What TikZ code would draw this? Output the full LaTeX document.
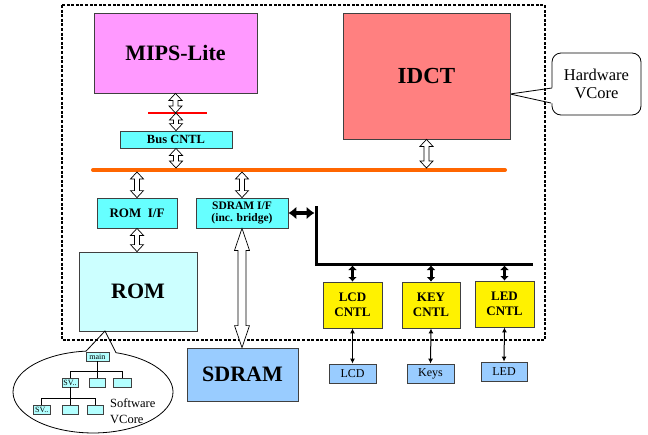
\documentclass[tikz,border=0pt]{standalone}
\usepackage{fontspec}
\setmainfont{Liberation Serif}
\usetikzlibrary{calc,arrows.meta}
\definecolor{mipsfill}{HTML}{FF99FF}
\definecolor{idctfill}{HTML}{FF8080}
\definecolor{cntlfill}{HTML}{66FFFF}
\definecolor{romfill}{HTML}{CCFFFF}
\definecolor{memfill}{HTML}{99CCFF}
\definecolor{busorange}{HTML}{FF6600}
\definecolor{treefill}{HTML}{B3FFFF}
\tikzset{
  blk/.style={draw=black!75, line width=0.8pt, inner sep=0pt, align=center},
  bigtxt/.style={font=\fontsize{22}{24}\selectfont\bfseries},
  midtxt/.style={font=\fontsize{12.5}{14}\selectfont\bfseries},
  cntltxt/.style={font=\fontsize{13}{15}\selectfont\bfseries},
  devtxt/.style={font=\fontsize{12}{14}\selectfont},
  tiny/.style={draw=black!75, line width=0.6pt, fill=treefill, inner sep=0pt,
    minimum height=9pt, font=\fontsize{8}{9}\selectfont},
  hol/.style n args={3}{fill=white, draw=black, line width=0.7pt, to path={
     let \p1=(\tikztostart), \p2=(\tikztotarget) in
     (\x1,\y1) -- (\x1+#1,\y1-#3) -- (\x1+#2,\y1-#3) -- (\x1+#2,\y2+#3) -- (\x1+#1,\y2+#3)
     -- (\x1,\y2) -- (\x1-#1,\y2+#3) -- (\x1-#2,\y2+#3) -- (\x1-#2,\y1-#3) -- (\x1-#1,\y1-#3) -- cycle}},
  hollow/.style={hol={6.5pt}{2.5pt}{7pt}},
  hollowbig/.style={hol={7.5pt}{4pt}{22pt}},
  fatarrow/.style={line width=4pt, {Latex[length=8pt,width=13pt]}-{Latex[length=8pt,width=13pt]}},
  busarrow/.style={line width=3pt, {Latex[length=4.5pt,width=9pt]}-{Latex[length=4.5pt,width=9pt]}},
  thinarrow/.style={line width=1pt, {Latex[length=5pt,width=5pt]}-{Latex[length=5pt,width=5pt]}},
}
\begin{document}
\begin{tikzpicture}[x=1pt,y=-1pt]
\useasboundingbox (0,0) rectangle (648,434);

% hardware callout
\node[draw, line width=0.8pt, rounded corners=9pt, minimum width=89pt, minimum height=62pt,
      align=center, font=\fontsize{16.5}{18}\selectfont] (hw) at (596.5,84) {Hardware\\VCore};
\coordinate (hwtip) at (510,94);
\coordinate (hwA) at (552,88);
\coordinate (hwB) at (551,103);
\fill[white] (hwtip) -- (553.5,87.5) -- (553.5,103.5) -- cycle;
\draw[line width=0.8pt] (hwA) -- (hwtip) -- (hwB);

% chip boundary
\draw[line width=1.4pt, dash pattern=on 3pt off 1.6pt] (62,5) rectangle (545,340);

% main blocks
\node[blk, fill=mipsfill, minimum width=163pt, minimum height=80pt, bigtxt] (mips) at (175.5,53) {MIPS-Lite};
\node[blk, fill=idctfill, minimum width=167pt, minimum height=126pt, font=\fontsize{23}{25}\selectfont\bfseries] (idct) at (426.5,76) {IDCT};
\node[blk, fill=cntlfill, minimum width=112pt, minimum height=17pt, midtxt] (buscntl) at (176,139.5) {Bus CNTL};
\node[blk, fill=cntlfill, minimum width=80pt, minimum height=30pt, font=\fontsize{13}{15}\selectfont\bfseries] (romif) at (137,213) {ROM\ \ I/F};
\node[blk, fill=cntlfill, minimum width=92pt, minimum height=30pt, font=\fontsize{11.5}{12.5}\selectfont\bfseries] (sdramif) at (242,213) {SDRAM I/F\\(inc. bridge)};
\node[blk, fill=romfill, minimum width=118pt, minimum height=79pt, bigtxt] (rom) at (138,291.5) {ROM};
\node[blk, fill=memfill, minimum width=111pt, minimum height=53pt, bigtxt] (sdram) at (242.5,374.5) {SDRAM};
\node[blk, fill=yellow, minimum width=59pt, minimum height=46pt, cntltxt] (lcdc) at (352.5,305) {LCD\\CNTL};
\node[blk, fill=yellow, minimum width=58pt, minimum height=46pt, cntltxt] (keyc) at (431,305) {KEY\\CNTL};
\node[blk, fill=yellow, minimum width=59pt, minimum height=46pt, cntltxt] (ledc) at (504.5,304) {LED\\CNTL};
\node[blk, fill=memfill, minimum width=47pt, minimum height=19pt, devtxt] (lcd) at (352.5,373.5) {LCD};
\node[blk, fill=memfill, minimum width=47pt, minimum height=19pt, devtxt] (keys) at (430.5,373.5) {Keys};
\node[blk, fill=memfill, minimum width=46pt, minimum height=19pt, devtxt] (led) at (504,371.5) {LED};

% red cut mark and orange system bus
\coordinate (redL) at (148,113);
\coordinate (redR) at (207,113);
\coordinate (redC) at (176,113);
\draw[red, line width=2.2pt] (redL) -- (redR);
\coordinate (busL) at (93,170);
\coordinate (busR) at (505,170);
\coordinate (bustop) at (93,168);
\coordinate (busbot) at (93,172);
\draw[busorange, line width=4pt, line cap=round] (busL) -- (busR);

% hollow bus connections
\draw[hollow] (mips.south) to (redC);
\draw[hollow] (redC) to (buscntl.north);
\draw[hollow] (buscntl.south) to (buscntl.south |- bustop);
\draw[hollow] (idct.south) to (idct.south |- bustop);
\draw[hollow] (romif.north |- busbot) to (romif.north);
\draw[hollow] (sdramif.north |- busbot) to (sdramif.north);
\draw[hollow] (romif.south) to (rom.north);
\draw[hollowbig] (sdramif.south) to (sdram.north);

% peripheral bus
\coordinate (pv) at (316,206);
\coordinate (pc) at (316,264);
\coordinate (pe) at (533,264);
\coordinate (pcb) at (316,265.5);
\draw[line width=3pt] (pv) -- (pc) -- (pe);
\draw[fatarrow] (sdramif.east) -- ([xshift=-1.5pt]sdramif.east -| pv);
\draw[busarrow] (lcdc.north |- pcb) -- (lcdc.north);
\draw[busarrow] (keyc.north |- pcb) -- (keyc.north);
\draw[busarrow] (ledc.north |- pcb) -- (ledc.north);
\draw[thinarrow] (lcdc.south) -- (lcd.north);
\draw[thinarrow] (keyc.south) -- (keys.north);
\draw[thinarrow] (ledc.south) -- (led.north);

% software callout
\coordinate (romtip) at (105,331);
\coordinate (swL) at (86,351.2);
\coordinate (swR) at (116,352.7);
\draw[line width=0.8pt] (swR) arc[start angle=286.7, end angle=625, x radius=80, y radius=41];
\draw[line width=0.8pt] (swL) -- (romtip) -- (swR);

% software call tree
\node[tiny, minimum width=23pt, minimum height=8.7pt] (main) at (97.3,356.7) {main};
\node[tiny, minimum width=16pt] (a1) at (70,382.5) {SV..};
\node[tiny, minimum width=16pt] (a2) at (97.3,382.5) {};
\node[tiny, minimum width=17.5pt] (a3) at (122.5,382.5) {};
\node[tiny, minimum width=16.5pt] (b1) at (41.7,409.7) {SV..};
\node[tiny, minimum width=16pt] (b2) at (70,409.7) {};
\node[tiny, minimum width=16pt] (b3) at (95,409.7) {};
\coordinate (t1) at (0,371);
\coordinate (t2) at (0,398.3);
\draw[line width=0.6pt] (main.south) -- (a2.north);
\draw[line width=0.6pt] (a1.north) |- (t1 -| a3.north) -- (a3.north);
\draw[line width=0.6pt] (a1.south) -- (b2.north);
\draw[line width=0.6pt] (b1.north) |- (t2 -| b3.north) -- (b3.north);
\node[anchor=west, align=left, inner sep=0pt, font=\fontsize{12.5}{16}\selectfont] (swtxt) at (110,411) {Software\\VCore};
\end{tikzpicture}
\end{document}
